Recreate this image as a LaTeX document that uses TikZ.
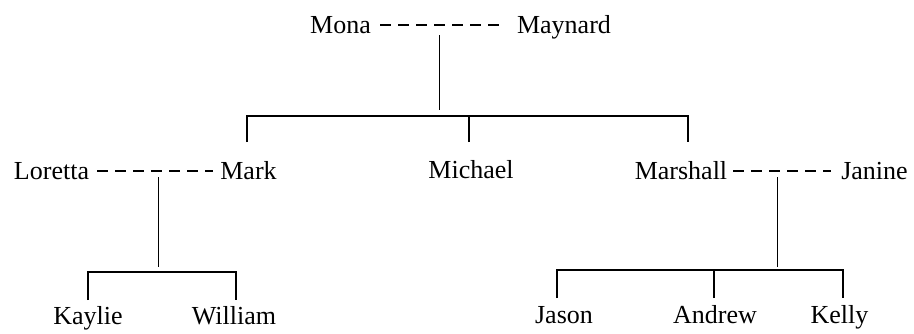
\documentclass[tikz,border=0pt]{standalone}
\usepackage{fontspec}
\setmainfont{Liberation Serif}
\usetikzlibrary{calc}
\begin{document}
\begin{tikzpicture}[x=1pt,y=1pt,
  person/.style={anchor=base,inner sep=0pt,font=\fontsize{26}{30}\selectfont},
  famdash/.style={line width=2.2pt,dash pattern=on 11pt off 7pt},
  link/.style={line width=1.7pt}]
\useasboundingbox (0,0) rectangle (914,333);
% generation 1
\node[person] (mona) at (340.5,299) {Mona};
\node[person] (maynard) at (564,299) {Maynard};
% generation 2
\node[person] (loretta) at (51.5,154) {Loretta};
\node[person] (mark) at (248.5,154) {Mark};
\node[person] (michael) at (471,155) {Michael};
\node[person] (marshall) at (681,154) {Marshall};
\node[person] (janine) at (874.5,154) {Janine};
% generation 3
\node[person] (kaylie) at (88,9) {Kaylie};
\node[person] (william) at (234,9) {William};
\node[person] (jason) at (564,10) {Jason};
\node[person] (andrew) at (715,10) {Andrew};
\node[person] (kelly) at (839.5,10) {Kelly};
% couples
\draw[famdash] ([xshift=9pt,yshift=9pt]mona.base east) -- ([xshift=-13pt,yshift=9pt]maynard.base west);
\draw[famdash] ([xshift=8pt,yshift=8pt]loretta.base east) -- ([xshift=-7pt,yshift=8pt]mark.base west);
\draw[famdash] ([xshift=6pt,yshift=8pt]marshall.base east) -- ([xshift=-10pt,yshift=8pt]janine.base west);
% couple drop points
\coordinate (c1) at ($(mona.base east)!0.47!(maynard.base west)+(0,-1)$);
\coordinate (c2) at ($(loretta.base east)!0.53!(mark.base west)+(0,2)$);
\coordinate (c3) at ($(marshall.base east)!0.44!(janine.base west)+(0,2)$);
% generation 1 -> 2
\draw[link] (c1) -- ++(0,-75);
\draw[link] ([xshift=-1.5pt,yshift=37pt]mark.base) -- ++(0,26) -| ([xshift=7pt,yshift=37pt]marshall.base);
\draw[link] ([xshift=-2pt,yshift=36pt]michael.base) -- ++(0,26);
% Loretta & Mark -> children
\draw[link] (c2) -- ++(0,-90);
\draw[link] ([yshift=24pt]kaylie.base) -- ++(0,28) -| ([xshift=2pt,yshift=24pt]william.base);
% Marshall & Janine -> children
\draw[link] (c3) -- ++(0,-90);
\draw[link] ([xshift=-7pt,yshift=25pt]jason.base) -- ++(0,28) -| ([xshift=3.5pt,yshift=25pt]kelly.base);
\draw[link] ([xshift=-1pt,yshift=25pt]andrew.base) -- ++(0,28);
\end{tikzpicture}
\end{document}
